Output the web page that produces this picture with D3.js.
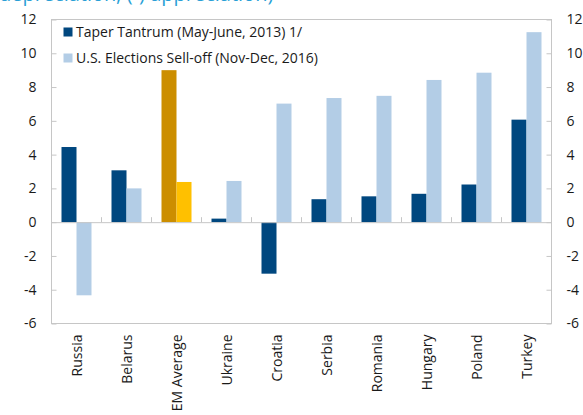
<!DOCTYPE html>
<html>
<head>
<meta charset="utf-8">
<script src="https://cdn.jsdelivr.net/npm/d3@7"></script>
<style>
  html, body { margin: 0; padding: 0; background: #fff; }
  svg { display: block; font-family: "Open Sans", "Noto Sans", sans-serif; }
</style>
</head>
<body>
<svg id="chart" width="583" height="415"></svg>
<script>
const categories = ["Russia", "Belarus", "EM Average", "Ukraine", "Croatia", "Serbia", "Romania", "Hungary", "Poland", "Turkey"];
const taperTantrum = [4.45, 3.07, 9.0, 0.21, -3.05, 1.36, 1.53, 1.68, 2.23, 6.07];
const usElections = [-4.33, 2.0, 2.38, 2.44, 7.02, 7.35, 7.48, 8.42, 8.85, 11.25];
const seriesNames = ["Taper Tantrum (May-June, 2013) 1/", "U.S. Elections Sell-off (Nov-Dec, 2016)"];
const yTicks = [-6, -4, -2, 0, 2, 4, 6, 8, 10, 12];
const titleText = "depreciation; (-) appreciation)";

const colors = { dark: "#00477f", light: "#b3cde6", gold: "#cc8e00", yellow: "#ffc000" };
const highlight = "EM Average";

const svg = d3.select("#chart");
const m = { left: 51.5, right: 551.5, top: 19.5, bottom: 323.5 };

const x = d3.scaleBand().domain(categories).range([m.left, m.right]).paddingInner(0.4).paddingOuter(0.2);
const xs = d3.scaleBand().domain([0, 1]).range([0, x.bandwidth()]);
const y = d3.scaleLinear().domain([-6, 12]).range([m.bottom, m.top]);

// title (clipped at top, as in the reference)
svg.append("text").attr("x", -1).attr("y", 0.5)
  .attr("font-size", 20).attr("fill", "#2a9fd6").text(titleText);

// frame
svg.append("rect").attr("x", m.left).attr("y", m.top)
  .attr("width", m.right - m.left).attr("height", m.bottom - m.top)
  .attr("fill", "none").attr("stroke", "#c6c6c6").attr("stroke-width", 1);

const fmt = d => String(d);
// left axis
const yl = svg.append("g").attr("transform", `translate(${m.left},0)`)
  .call(d3.axisLeft(y).tickValues(yTicks).tickSize(-5).tickPadding(15).tickFormat(fmt));
// right axis
const yr = svg.append("g").attr("transform", `translate(${m.right},0)`)
  .call(d3.axisRight(y).tickValues(yTicks).tickSize(-5).tickPadding(15).tickFormat(fmt));
[yl, yr].forEach(g => {
  g.select(".domain").remove();
  g.selectAll(".tick line").attr("stroke", "#c6c6c6");
  g.selectAll(".tick text").attr("font-size", 14).attr("fill", "#1a1a1a").attr("font-family", "\"Open Sans\", sans-serif");
});

// bars
const data = categories.map((c, i) => ({ c, vals: [taperTantrum[i], usElections[i]] }));
const groups = svg.append("g").selectAll("g").data(data).join("g")
  .attr("transform", d => `translate(${x(d.c)},0)`);
groups.selectAll("rect").data(d => d.vals.map((v, k) => ({ v, k, c: d.c }))).join("rect")
  .attr("x", d => xs(d.k))
  .attr("width", xs.bandwidth())
  .attr("y", d => y(Math.max(0, d.v)))
  .attr("height", d => Math.abs(y(d.v) - y(0)))
  .attr("fill", d => d.c === highlight ? (d.k === 0 ? colors.gold : colors.yellow) : (d.k === 0 ? colors.dark : colors.light));

// zero line with category ticks
const xAxis = svg.append("g").attr("transform", `translate(0,${y(0)})`)
  .call(d3.axisBottom(x).tickSize(0).tickFormat(""));
xAxis.select(".domain").attr("stroke", "#c6c6c6");
xAxis.selectAll(".tick").remove();
const step = x.step();
const bounds = d3.range(1, categories.length).map(i => m.left + i * step);
xAxis.selectAll("line.sep").data(bounds).join("line").attr("class", "sep")
  .attr("x1", d => d).attr("x2", d => d).attr("y1", 0).attr("y2", -5)
  .attr("stroke", "#c6c6c6");

// category labels (rotated)
svg.append("g").selectAll("text").data(categories).join("text")
  .attr("transform", d => `translate(${x(d) + x.bandwidth() / 2 + 5},${m.bottom + 11}) rotate(-90)`)
  .attr("text-anchor", "end")
  .attr("font-size", 14).attr("fill", "#1a1a1a")
  .text(d => d);

// legend
const lg = svg.append("g");
const legendColors = [colors.dark, colors.light];
seriesNames.forEach((n, i) => {
  const yy = 27.5 + i * 26;
  lg.append("rect").attr("x", 63.5).attr("y", yy).attr("width", 9).attr("height", 9).attr("fill", legendColors[i]);
  lg.append("text").attr("x", 76).attr("y", yy + 9.5).attr("font-size", 14).attr("fill", "#1a1a1a").text(n);
});
</script>
</body>
</html>
